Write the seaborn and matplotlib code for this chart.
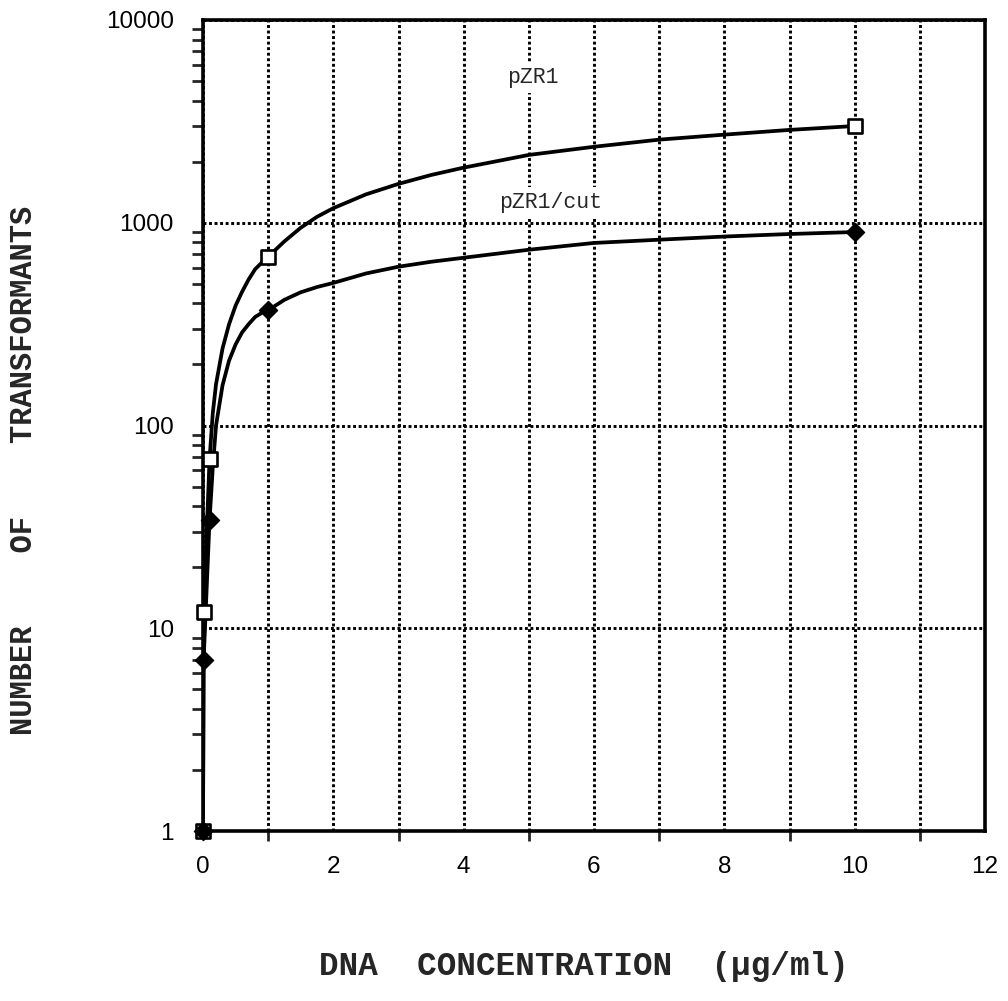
import numpy as np
import pandas as pd
import matplotlib
matplotlib.use("Agg")
import matplotlib.pyplot as plt
import seaborn as sns
from matplotlib.ticker import FixedLocator, NullFormatter, FixedFormatter

# ---- data ----
series_names = ["pZR1", "pZR1/cut"]

# measured points (markers)
conc = [0, 0.01, 0.1, 1, 10]
pzr1_counts = [1, 12, 68, 680, 3000]
cut_counts = [1, 7, 34, 370, 900]

# samples
curve_x = [0, 0.01, 0.1, 0.15, 0.2, 0.3, 0.4, 0.5, 0.6, 0.7, 0.8, 0.9, 1,
           1.25, 1.5, 1.75, 2, 2.5, 3, 3.5, 4, 5, 6, 7, 8, 9, 10]
pzr1_curve = [1, 12, 68, 115, 160, 240, 316, 390, 457, 525, 590, 635, 680,
              810, 945, 1070, 1180, 1380, 1555, 1720, 1870, 2160, 2370, 2570, 2720, 2870, 3000]
cut_curve = [1, 7, 34, 62, 100, 158, 209, 251, 288, 316, 343, 359, 370,
             417, 454, 482, 505, 562, 607, 642, 672, 736, 795, 825, 855, 880, 900]

x_major = [0, 2, 4, 6, 8, 10, 12]
x_minor = [1, 3, 5, 7, 9, 11]
y_major = [1, 10, 100, 1000, 10000]
y_major_labels = ["1", "10", "100", "1000", "10000"]

curve_df = pd.DataFrame({
    "x": curve_x + curve_x,
    "y": pzr1_curve + cut_curve,
    "series": [series_names[0]] * len(curve_x) + [series_names[1]] * len(curve_x),
})
pts_pzr1 = pd.DataFrame({"x": conc, "y": pzr1_counts})
pts_cut = pd.DataFrame({"x": conc, "y": cut_counts})

# ---- figure ----
sns.set_style("white")
plt.rcParams["font.family"] = ["Liberation Sans", "DejaVu Sans"]
mono = ["Liberation Mono", "DejaVu Sans Mono"]

W, H = 1008, 1001
fig = plt.figure(figsize=(W / 100, H / 100), dpi=100)
L, R, T, B = 203, 985, 20, 831
ax = fig.add_axes([L / W, 1 - B / H, (R - L) / W, (B - T) / H])

ax.set_yscale("log")
ax.set_xlim(0, 12)
ax.set_ylim(1, 10000)

sns.lineplot(data=curve_df, x="x", y="y", hue="series",
             palette={series_names[0]: "black", series_names[1]: "black"},
             linewidth=2.7, legend=False, ax=ax, sort=False, estimator=None,
             zorder=4)
ax.lines[0].set_solid_joinstyle("round")
ax.lines[1].set_solid_joinstyle("round")

sns.scatterplot(data=pts_pzr1, x="x", y="y", marker="s", s=95, color="white",
                edgecolor="black", linewidth=1.9, ax=ax, zorder=6, clip_on=False)
sns.scatterplot(data=pts_cut, x="x", y="y", marker="D", s=85, color="black",
                edgecolor="black", linewidth=1.0, ax=ax, zorder=7, clip_on=False)

# ticks
ax.xaxis.set_major_locator(FixedLocator(x_major))
ax.xaxis.set_minor_locator(FixedLocator(x_minor))
ax.xaxis.set_minor_formatter(NullFormatter())
ax.set_xticklabels([str(v) for v in x_major])

ax.yaxis.set_major_locator(FixedLocator(y_major))
ax.yaxis.set_major_formatter(FixedFormatter(y_major_labels))
minor_y = [m * 10 ** d for d in range(0, 4) for m in range(2, 10)]
ax.yaxis.set_minor_locator(FixedLocator(minor_y))
ax.yaxis.set_minor_formatter(NullFormatter())

ax.tick_params(axis="both", which="major", direction="out", length=12, width=2.4,
               color="black", labelsize=17.5, labelcolor="black")
ax.tick_params(axis="y", which="major", pad=9)
ax.tick_params(axis="x", which="major", pad=6)
ax.tick_params(axis="y", which="minor", direction="out", length=8, width=2.0, left=True)
ax.tick_params(axis="x", which="minor", direction="out", length=7, width=2.0, bottom=True)

# grid: dotted, vertical at every integer, horizontal at each decade
ax.xaxis.grid(True, which="both", color="black", linestyle=(0, (1, 0.9)), linewidth=2.1)
ax.yaxis.grid(True, which="major", color="black", linestyle=(0, (1, 0.9)), linewidth=2.1)
ax.set_axisbelow(True)

for side in ["left", "bottom", "top", "right"]:
    ax.spines[side].set_visible(True)
    ax.spines[side].set_color("black")
    ax.spines[side].set_linewidth(2.6)

ax.set_xlabel("")
ax.set_ylabel("")

# series labels
ax.text(5.06, 5176, "pZR1", family=mono, fontsize=15.5,
        ha="center", va="center", zorder=8,
        bbox=dict(facecolor="white", edgecolor="none", pad=3))
ax.text(5.34, 1265, "pZR1/cut", family=mono, fontsize=15.5,
        ha="center", va="center", zorder=8,
        bbox=dict(facecolor="white", edgecolor="none", pad=3))

# axis titles
fig.text(584 / W, 1 - 967 / H, "DNA  CONCENTRATION  (\u00b5g/ml)",
         family=mono, fontweight="bold", fontsize=23.5,
         ha="center", va="center")
fig.text(24 / W, 1 - 470 / H, "NUMBER    OF    TRANSFORMANTS",
         family=mono, fontweight="bold", fontsize=22,
         ha="center", va="center", rotation=90)

fig.savefig("out.png", dpi=100, facecolor="white")
